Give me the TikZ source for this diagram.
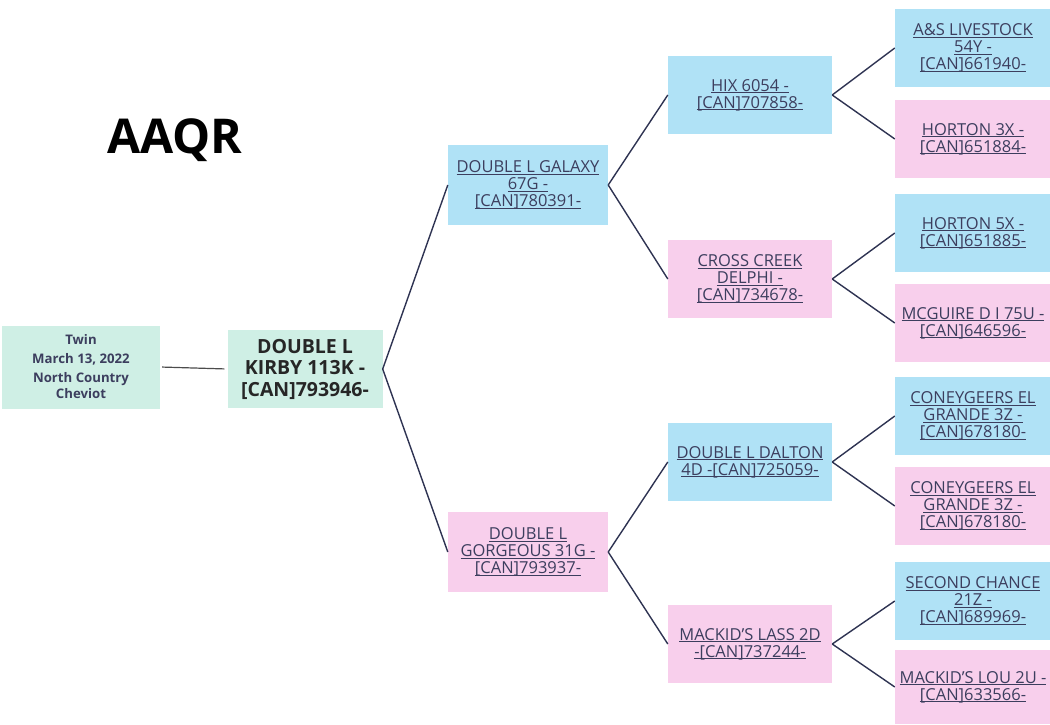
\documentclass[tikz,border=0pt]{standalone}
\usepackage{fontspec}
\setmainfont{Open Sans}
\usepackage{xcolor}
\usetikzlibrary{positioning}

\definecolor{sireblue}{HTML}{B0E2F6}
\definecolor{dampink}{HTML}{F8CFEC}
\definecolor{rootmint}{HTML}{CFEFE5}
\definecolor{inktext}{HTML}{3C3E5E}
\definecolor{linkline}{HTML}{2E3352}

% underlined pedigree link text
\newcommand{\lnk}[1]{\setbox0\hbox{#1}\rlap{\rule[-1.8pt]{\wd0}{0.7pt}}\box0}

\begin{document}
\begin{tikzpicture}[x=1pt, y=-1pt,
    base/.style={inner sep=0pt, align=center, text=inktext,
                 font=\fontsize{16.5}{17.2}\selectfont},
    sire/.style={base, fill=sireblue, minimum width=160pt, minimum height=80pt},
    dam/.style={base, fill=dampink, minimum width=160pt, minimum height=80pt},
    gsire/.style={base, fill=sireblue, minimum width=164pt, minimum height=78pt},
    gdam/.style={base, fill=dampink, minimum width=164pt, minimum height=78pt},
    ggsire/.style={base, fill=sireblue, minimum width=156pt, minimum height=78pt},
    ggdam/.style={base, fill=dampink, minimum width=156pt, minimum height=78pt},
    root/.style={inner sep=0pt, align=center, fill=rootmint, text=black!85},
    link/.style={draw=linkline, line width=1.4pt}
]
    \useasboundingbox (0,0) rectangle (1050,725);

    \node[font=\fontsize{48}{50}\selectfont\bfseries] (title) at (175,140) {AAQR};

    \node[root, minimum width=158pt, minimum height=83pt,
          font=\fontsize{13.2}{16}\selectfont\bfseries, text=inktext] (info) at (81,367)
        {Twin\\[3pt] March 13, 2022\\[3pt] North Country\\ Cheviot};
    \node[root, minimum width=155pt, minimum height=78pt,
          font=\fontsize{19.5}{21.5}\selectfont\bfseries] (kirby) at (305,369)
        {DOUBLE L\\ KIRBY 113K -\\ {[CAN]}793946-};

    % parents
    \node[sire] (galaxy) at (528,185)
        {\lnk{DOUBLE L GALAXY}\\ \lnk{67G -}\\ \lnk{[CAN]780391-}};
    \node[dam] (gorgeous) at (528,552)
        {\lnk{DOUBLE L}\\ \lnk{GORGEOUS 31G -}\\ \lnk{[CAN]793937-}};

    % grandparents
    \node[gsire] (hix) at (750,95)
        {\lnk{HIX 6054 -}\\ \lnk{[CAN]707858-}};
    \node[gdam] (delphi) at (750,279)
        {\lnk{CROSS CREEK}\\ \lnk{DELPHI -}\\ \lnk{[CAN]734678-}};
    \node[gsire] (dalton) at (750,462)
        {\lnk{DOUBLE L DALTON}\\ \lnk{4D -[CAN]725059-}};
    \node[gdam] (lass) at (750,644)
        {\lnk{MACKID'S LASS 2D}\\ \lnk{-[CAN]737244-}};

    % great-grandparents
    \node[ggsire] (livestock) at (973,48)
        {\lnk{A\&S LIVESTOCK}\\ \lnk{54Y -}\\ \lnk{[CAN]661940-}};
    \node[ggdam] (hortonthree) at (973,139)
        {\lnk{HORTON 3X -}\\ \lnk{[CAN]651884-}};
    \node[ggsire] (hortonfive) at (973,233)
        {\lnk{HORTON 5X -}\\ \lnk{[CAN]651885-}};
    \node[ggdam] (mcguire) at (973,323)
        {\lnk{MCGUIRE D I 75U -}\\ \lnk{[CAN]646596-}};
    \node[ggsire] (grandesire) at (973,416)
        {\lnk{CONEYGEERS EL}\\ \lnk{GRANDE 3Z -}\\ \lnk{[CAN]678180-}};
    \node[ggdam] (grandedam) at (973,506)
        {\lnk{CONEYGEERS EL}\\ \lnk{GRANDE 3Z -}\\ \lnk{[CAN]678180-}};
    \node[ggsire] (chance) at (973,601)
        {\lnk{SECOND CHANCE}\\ \lnk{21Z -}\\ \lnk{[CAN]689969-}};
    \node[ggdam, minimum height=74pt] (lou) at (973,687)
        {\lnk{MACKID'S LOU 2U -}\\ \lnk{[CAN]633566-}};

    \draw[draw=black!70, line width=1.2pt, shorten <=2pt, shorten >=3pt] (info.east) -- (kirby.west);

    \draw[link] (kirby.east) -- (galaxy.west);
    \draw[link] (kirby.east) -- (gorgeous.west);

    \draw[link] (galaxy.east) -- (hix.west);
    \draw[link] (galaxy.east) -- (delphi.west);
    \draw[link] (gorgeous.east) -- (dalton.west);
    \draw[link] (gorgeous.east) -- (lass.west);

    \draw[link] (hix.east) -- (livestock.west);
    \draw[link] (hix.east) -- (hortonthree.west);
    \draw[link] (delphi.east) -- (hortonfive.west);
    \draw[link] (delphi.east) -- (mcguire.west);
    \draw[link] (dalton.east) -- (grandesire.west);
    \draw[link] (dalton.east) -- (grandedam.west);
    \draw[link] (lass.east) -- (chance.west);
    \draw[link] (lass.east) -- (lou.west);
\end{tikzpicture}
\end{document}
